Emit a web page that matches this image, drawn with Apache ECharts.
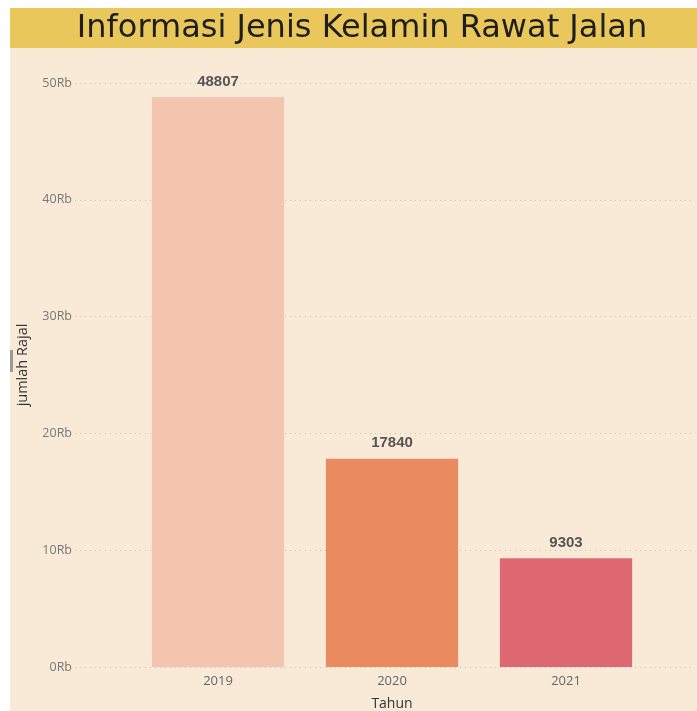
<!DOCTYPE html>
<html>
<head>
<meta charset="utf-8">
<script src="https://cdn.jsdelivr.net/npm/echarts@6/dist/echarts.min.js"></script>
<style>
html,body{margin:0;padding:0;background:#ffffff;}
#c{width:697px;height:711px;}
</style>
</head>
<body>
<div id="c"></div>
<script>
const titleText = 'Informasi Jenis Kelamin Rawat Jalan';
const categories = ['2019', '2020', '2021'];
const values = [48807, 17840, 9303];
const barColors = ['#F3C4AE', '#E98A5F', '#DE6872'];
const yTicks = [0, 10000, 20000, 30000, 40000, 50000];
const xAxisName = 'Tahun';
const yAxisName = 'jumlah Rajal';

const chart = echarts.init(document.getElementById('c'));
const gridTop = 83, gridBottom = 44;
chart.setOption({
  animation: false,
  backgroundColor: '#ffffff',
  graphic: [
    {type: 'rect', shape: {x: 10, y: 8, width: 687, height: 703}, style: {fill: '#F9EAD8'}, z: -10},
    {type: 'rect', shape: {x: 10, y: 8, width: 687, height: 40}, style: {fill: '#E9C75B'}, z: -9},
    {type: 'rect', shape: {x: 10, y: 350, width: 3, height: 22}, style: {fill: '#9a9a9a'}, z: -8},
    {type: 'text', x: 362, y: 29, style: {text: titleText, font: '32px "Comic Sans MS", "DejaVu Sans", sans-serif', fill: '#1e1e1e', textAlign: 'center', textVerticalAlign: 'middle'}}
  ],
  grid: [
    {left: 75, right: 2, top: gridTop, bottom: gridBottom, outerBoundsMode: 'none', containLabel: false},
    {left: 131, right: 44, top: gridTop, bottom: gridBottom, outerBoundsMode: 'none', containLabel: false}
  ],
  xAxis: [
    {gridIndex: 0, type: 'category', data: categories, show: false},
    {gridIndex: 1, type: 'category', data: categories,
     axisLine: {show: false}, axisTick: {show: false},
     axisLabel: {color: '#666666', fontSize: 13, fontFamily: '"Open Sans", sans-serif', margin: 8},
     name: xAxisName, nameLocation: 'middle', nameGap: 30,
     nameTextStyle: {color: '#333333', fontSize: 14, fontFamily: '"Open Sans", sans-serif'}}
  ],
  yAxis: [
    {gridIndex: 0, type: 'value', min: 0, max: 50000, interval: 10000,
     axisLine: {show: false}, axisTick: {show: false},
     axisLabel: {color: '#777777', fontSize: 12.5, fontFamily: '"Open Sans", sans-serif', margin: 3,
       formatter: v => (v / 1000) + 'Rb'},
     splitLine: {show: true, lineStyle: {color: '#CBBDAE', type: [1, 4], width: 1}},
     name: yAxisName, nameLocation: 'middle', nameGap: 45,
     nameTextStyle: {color: '#333333', fontSize: 14.5, fontFamily: '"Open Sans", sans-serif', padding: [0, 0, 0, 20]}},
    {gridIndex: 1, type: 'value', min: 0, max: 50000, interval: 10000, show: false, splitLine: {show: false}}
  ],
  series: [{
    type: 'bar', xAxisIndex: 1, yAxisIndex: 1,
    data: values.map((v, i) => ({value: v, itemStyle: {color: barColors[i]}})),
    barCategoryGap: '24%',
    label: {show: true, position: 'top', distance: 8, color: '#555555', fontSize: 15, fontWeight: 'bold', fontFamily: '"Liberation Sans", Arial, sans-serif'}
  }]
});
</script>
</body>
</html>
